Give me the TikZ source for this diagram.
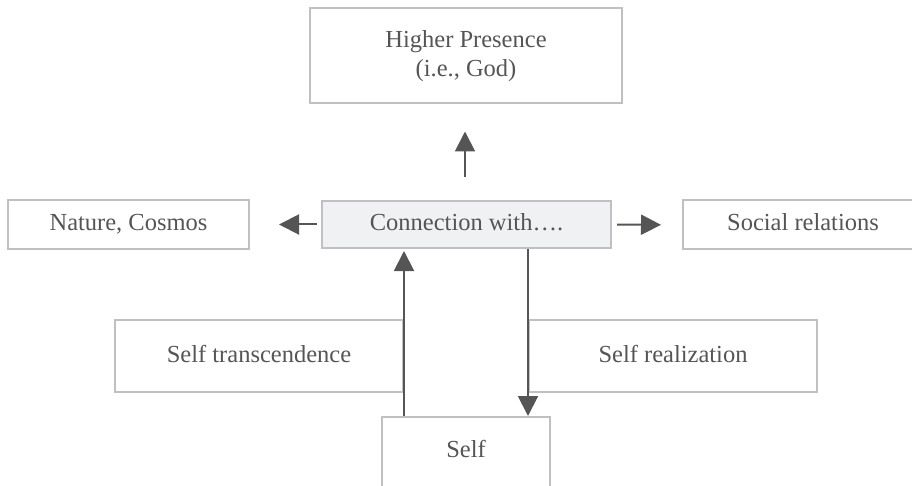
\documentclass[tikz,border=0pt]{standalone}
\usepackage{fontspec}
\setmainfont{Liberation Serif}
\usepackage{xcolor}
\usetikzlibrary{arrows.meta,positioning,calc}

\definecolor{boxline}{HTML}{C0C0C4}
\definecolor{boxfill}{HTML}{F0F1F3}
\definecolor{inkgray}{HTML}{555555}
\definecolor{arrowgray}{HTML}{555555}

\begin{document}
\begin{tikzpicture}[
    x=1pt, y=-1pt,
    font=\fontsize{24.5}{29}\selectfont,
    box/.style={rectangle, draw=boxline, line width=2pt, fill=white, text=inkgray, align=center, inner sep=0pt},
    single/.style={box, text height=17pt, text depth=5pt},
    hub/.style={single, fill=boxfill},
    arrow/.style={-{Triangle[length=20pt, width=20pt]}, draw=arrowgray, line width=2pt}
]
    \useasboundingbox (0,0) rectangle (912,486);
    \clip (0,0) rectangle (912,486);

    % --- Top ---
    \node[box, minimum width=312pt, minimum height=95pt] (god) at (466, 56) {Higher Presence\\(i.e., God)};

    % --- Middle row ---
    \node[hub, minimum width=289pt, minimum height=47pt] (conn) at (466.5, 224.5) {Connection with….};
    \node[single, minimum width=241pt, minimum height=49pt] (nature) at (128.5, 224.5) {Nature, Cosmos};
    \node[single, minimum width=240pt, minimum height=49pt] (social) at (803, 225) {Social relations};

    % --- Lower row ---
    \node[single, minimum width=288pt, minimum height=72pt] (trans) at (259, 356) {Self transcendence};
    \node[single, minimum width=288pt, minimum height=72pt] (real) at (673, 356) {Self realization};

    % Self (runs off the bottom)
    \node[box, anchor=north, minimum width=168pt, text height=40pt, text depth=60pt] (self) at (466, 416) {Self};

    % Arrows
    \draw[arrow, shorten <=23pt, shorten >=27pt] (conn.north -| 465,0) -- (god.south -| 465,0);
    \draw[arrow, shorten <=4pt, shorten >=29pt] (conn.west) -- (nature.east);
    \draw[arrow, shorten <=5pt, shorten >=21pt] (conn.east) -- (social.west);
    \draw[arrow, shorten >=2pt] (self.north -| trans.east) -- (conn.south -| trans.east);
    \draw[arrow] (conn.south -| real.west) -- (self.north -| real.west);

\end{tikzpicture}
\end{document}
